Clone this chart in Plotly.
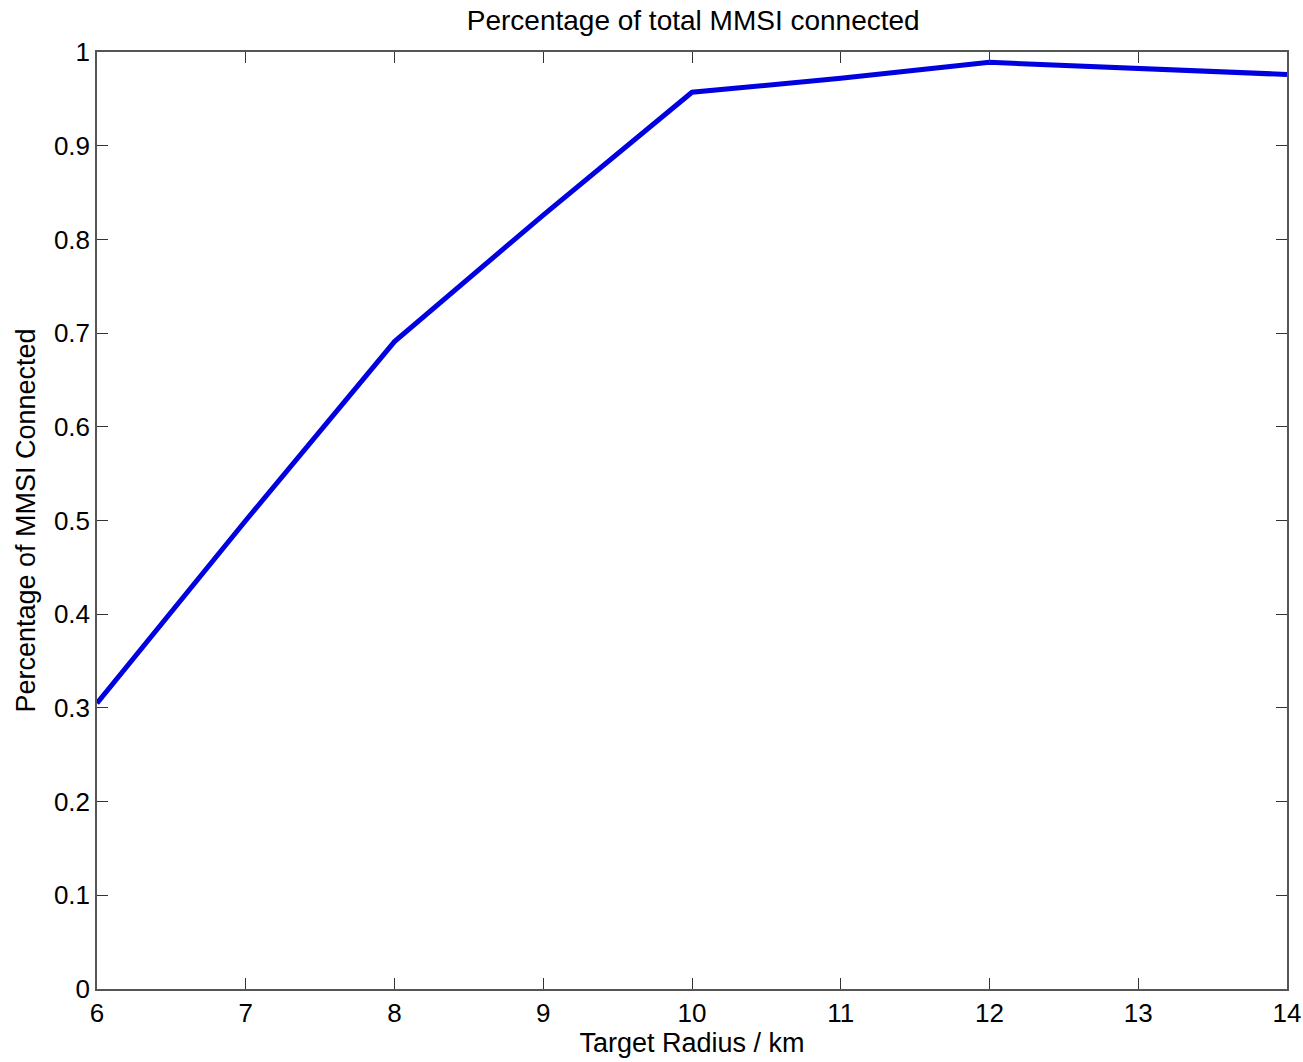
import plotly.graph_objects as go

radius_km = [6, 7, 8, 9, 10, 11, 12, 13, 14]
pct_connected = [0.305, 0.50, 0.691, 0.826, 0.957, 0.972, 0.989, 0.982, 0.976]

x_ticks = [6, 7, 8, 9, 10, 11, 12, 13, 14]
y_ticks = [0, 0.1, 0.2, 0.3, 0.4, 0.5, 0.6, 0.7, 0.8, 0.9, 1]
y_tick_text = ["0", "0.1", "0.2", "0.3", "0.4", "0.5", "0.6", "0.7", "0.8", "0.9", "1"]

fig = go.Figure()
fig.add_trace(go.Scatter(x=radius_km, y=pct_connected, mode="lines",
                         line=dict(color="rgb(0,0,225)", width=5), showlegend=False))

font = "Liberation Sans, Arial, sans-serif"
axis_common = dict(showgrid=False, zeroline=False, showline=True, linecolor="#555555",
                   linewidth=1.5, mirror="allticks", ticks="inside", ticklen=11,
                   tickcolor="#333333", tickwidth=1, automargin=False,
                   tickfont=dict(family=font, size=26, color="black"))

fig.update_layout(
    width=1303, height=1062,
    margin=dict(l=97, r=16, t=52, b=73),
    paper_bgcolor="white", plot_bgcolor="white",
    title=dict(text="Percentage of total MMSI connected", x=0.532, xanchor="center",
               y=1 - 20/1062, yanchor="middle",
               font=dict(family=font, size=28, color="black")),
    xaxis=dict(range=[6, 14], tickvals=x_ticks,
               title=dict(text="Target Radius / km", standoff=4,
                          font=dict(family=font, size=27, color="black")),
               **axis_common),
    yaxis=dict(range=[0, 1], tickvals=y_ticks, ticktext=y_tick_text,
               title=dict(text="Percentage of MMSI Connected", standoff=10,
                          font=dict(family=font, size=27, color="black")),
               **axis_common),
)

fig.write_html("out.html")
